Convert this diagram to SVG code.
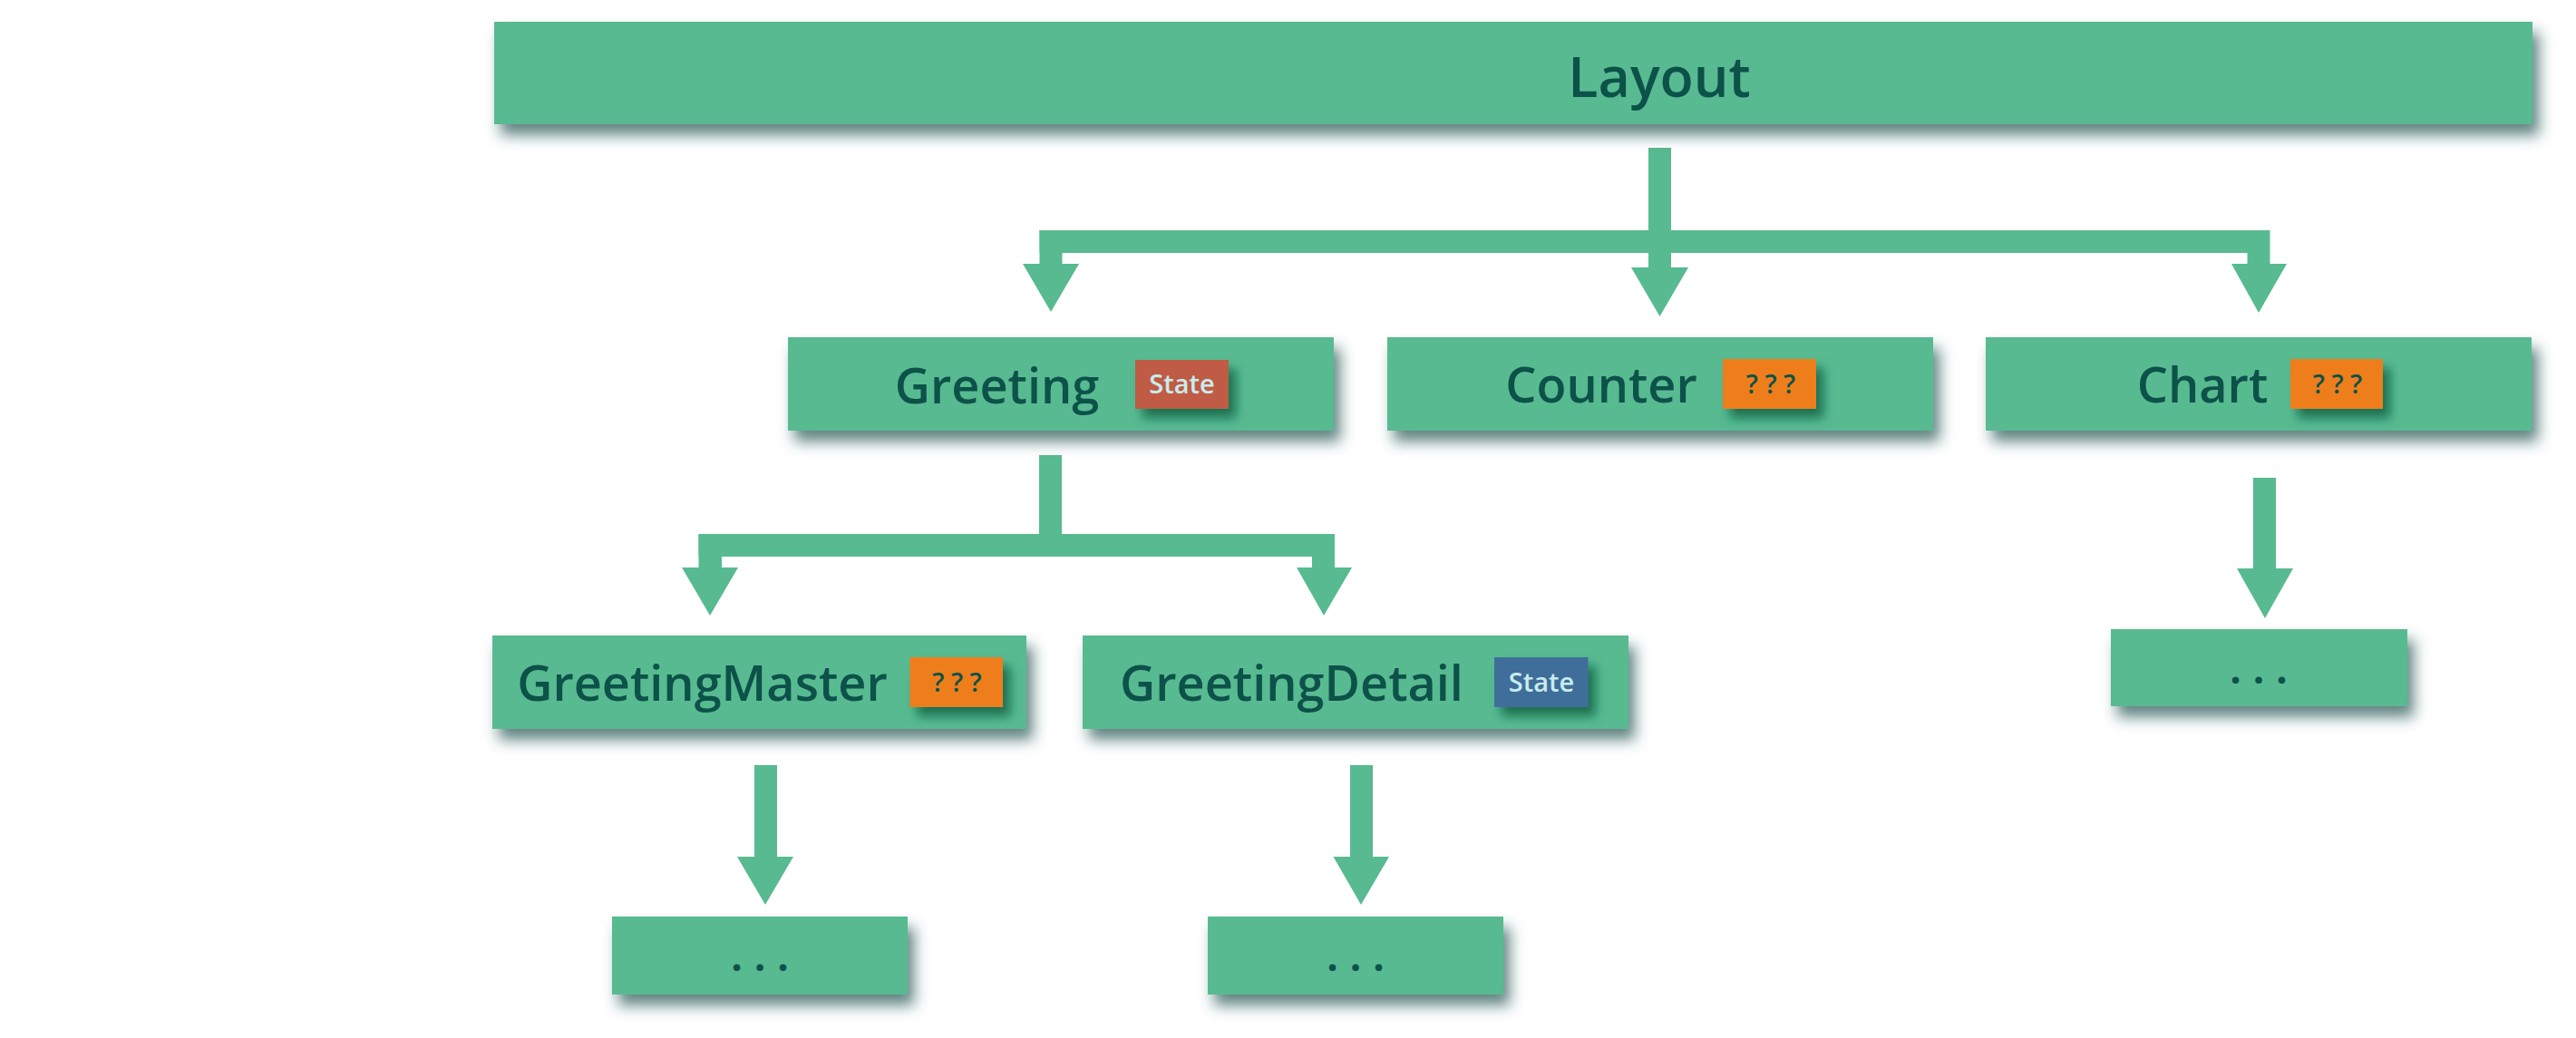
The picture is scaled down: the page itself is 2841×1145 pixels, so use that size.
<svg xmlns="http://www.w3.org/2000/svg" width="2841" height="1145" viewBox="0 0 2841 1145">
<defs>
<filter id="sh" x="-10%" y="-40%" width="125%" height="190%">
<feDropShadow dx="7" dy="12" stdDeviation="8" flood-color="#1f4f4c" flood-opacity="0.7"/>
</filter>
<filter id="bsh" x="-30%" y="-40%" width="170%" height="200%">
<feDropShadow dx="8" dy="10" stdDeviation="6" flood-color="#0a6344" flood-opacity="0.85"/>
</filter>
<style>
.box{fill:#58ba91;filter:url(#sh)}
.lbl{font-family:"Open Sans","Noto Sans",sans-serif;font-weight:600;fill:#0c5249;text-anchor:middle}
.big{font-size:61px}
.mid{font-size:54px}
.btxt{font-family:"Open Sans","Noto Sans",sans-serif;font-weight:600;font-size:29px;text-anchor:middle}
.st{fill:#c8ecee}
.q{fill:#0c5249}
.red{fill:#c05b45;filter:url(#bsh)}
.org{fill:#ee7e1d;filter:url(#bsh)}
.blu{fill:#3f6e9a;filter:url(#bsh)}
.dots{font-family:"Open Sans","Noto Sans",sans-serif;font-weight:700;font-size:44px;fill:#0c5249;text-anchor:middle;letter-spacing:13px}
.con{fill:#58ba91}
</style>
</defs>
<rect width="2841" height="1145" fill="#ffffff"/>
<g id="connectors">
<rect class="con" x="1818" y="163" width="25" height="133"/>
<polygon class="con" points="1799,295 1862,295 1830.5,349"/>
<rect class="con" x="1146.5" y="254" width="1356.5" height="25"/>
<rect class="con" x="1146.5" y="254" width="25" height="38"/>
<polygon class="con" points="1128,291 1190,291 1159,344"/>
<rect class="con" x="2478.5" y="254" width="25" height="38"/>
<polygon class="con" points="2461,291 2522,291 2491,345"/>
<rect class="con" x="1146" y="502" width="25" height="112"/>
<rect class="con" x="770.5" y="589" width="701.5" height="25"/>
<rect class="con" x="770.5" y="589" width="25.5" height="38"/>
<polygon class="con" points="752,626 814,626 783,679"/>
<rect class="con" x="1447" y="589" width="25" height="38"/>
<polygon class="con" points="1430,626 1491,626 1460,679"/>
<rect class="con" x="832" y="844" width="25" height="102"/>
<polygon class="con" points="813,945 875,945 844,998"/>
<rect class="con" x="1489" y="844" width="25" height="102"/>
<polygon class="con" points="1470.5,945 1532,945 1501,998"/>
<rect class="con" x="2485" y="527" width="25" height="101"/>
<polygon class="con" points="2467,627 2529,627 2498,682"/>
</g>
<g id="layout">
<rect class="box" x="545" y="24" width="2248" height="113"/>
<text class="lbl big" x="1830" y="107">Layout</text>
</g>
<g id="greeting">
<rect class="box" x="869" y="372" width="602" height="103"/>
<text class="lbl mid" x="1099.5" y="445">Greeting</text>
<rect class="red" x="1252" y="397" width="103" height="54"/>
<text class="btxt st" x="1303.5" y="434">State</text>
</g>
<g id="counter">
<rect class="box" x="1530" y="372" width="602" height="103"/>
<text class="lbl mid" x="1766" y="444">Counter</text>
<rect class="org" x="1900" y="396" width="103" height="55"/>
<text class="btxt q" x="1953" y="434">? ? ?</text>
</g>
<g id="chart">
<rect class="box" x="2190" y="372" width="602" height="103"/>
<text class="lbl mid" x="2429" y="444">Chart</text>
<rect class="org" x="2526" y="396" width="102" height="55"/>
<text class="btxt q" x="2578" y="434">? ? ?</text>
</g>
<g id="greetingmaster">
<rect class="box" x="543" y="701" width="589" height="103"/>
<text class="lbl mid" x="774.5" y="773">GreetingMaster</text>
<rect class="org" x="1003.5" y="725" width="102.5" height="55"/>
<text class="btxt q" x="1055.5" y="763">? ? ?</text>
</g>
<g id="greetingdetail">
<rect class="box" x="1194" y="701" width="602" height="103"/>
<text class="lbl mid" x="1424.5" y="773">GreetingDetail</text>
<rect class="blu" x="1648" y="725" width="103.5" height="55"/>
<text class="btxt st" x="1700" y="763">State</text>
</g>
<g id="master-child">
<rect class="box" x="675" y="1011" width="326" height="86"/>
<text class="dots" x="844.5" y="1071">...</text>
</g>
<g id="detail-child">
<rect class="box" x="1332" y="1011" width="326" height="86"/>
<text class="dots" x="1501.5" y="1071">...</text>
</g>
<g id="chart-child">
<rect class="box" x="2328" y="694" width="327" height="85"/>
<text class="dots" x="2497.5" y="754">...</text>
</g>
</svg>
